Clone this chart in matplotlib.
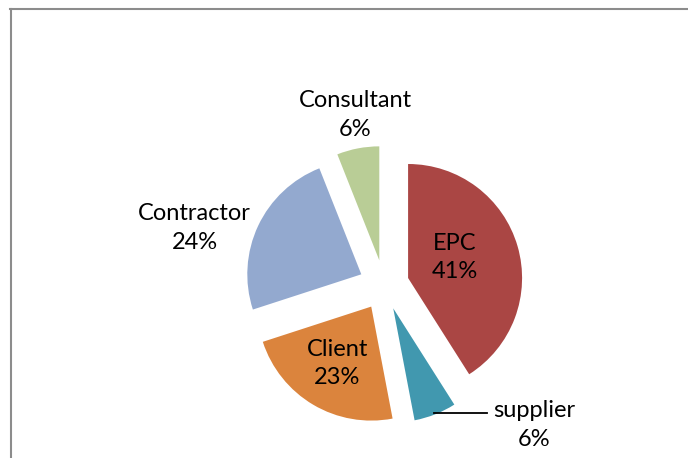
import matplotlib.pyplot as plt
from matplotlib.lines import Line2D

# slices in drawing order (clockwise from 12 o'clock)
labels = ['EPC', 'supplier', 'Client', 'Contractor', 'Consultant']
shares = [41, 6, 23, 24, 6]
colors = ['#AA4644', '#4198AF', '#DB843D', '#93A9CF', '#B9CD96']

# label anchor points (pie radius units) - Excel style data labels
label_pos = [(0.62, 0.24), (1.32, -1.23), (-0.41, -0.69), (-1.66, 0.50), (-0.25, 1.49)]

plt.rcParams['font.family'] = ['Lato', 'DejaVu Sans']

fig = plt.figure(figsize=(6.88, 4.58), dpi=100)
ax = fig.add_axes([0, 0, 1, 1])

ax.pie(shares, colors=colors, startangle=90, counterclock=False,
       explode=[0.22] * len(shares), radius=1.0,
       wedgeprops=dict(linewidth=0))

for name, val, (x, y) in zip(labels, shares, label_pos):
    ax.text(x, y, f'{name}\n{val}%', ha='center', va='center',
            multialignment='center', fontsize=17, linespacing=1.45)

# leader line for the supplier label
ax.plot([0.44, 0.90], [-1.12, -1.12], color='black', lw=1.3)

# pixel-scaled limits: pie centre at (384, 285), 114 px per unit
ax.set_xlim(-384 / 114, (688 - 384) / 114)
ax.set_ylim(-(458 - 285) / 114, 285 / 114)
ax.set_aspect('equal')
ax.axis('off')

# chart area border (runs off the right and bottom edges)
fig.add_artist(Line2D([10 / 688, 1], [1 - 9 / 458, 1 - 9 / 458], color='#8C8C8C', lw=1.5))
fig.add_artist(Line2D([11 / 688, 11 / 688], [0, 1 - 9 / 458], color='#8C8C8C', lw=1.5))

fig.savefig('out.png', dpi=100)
